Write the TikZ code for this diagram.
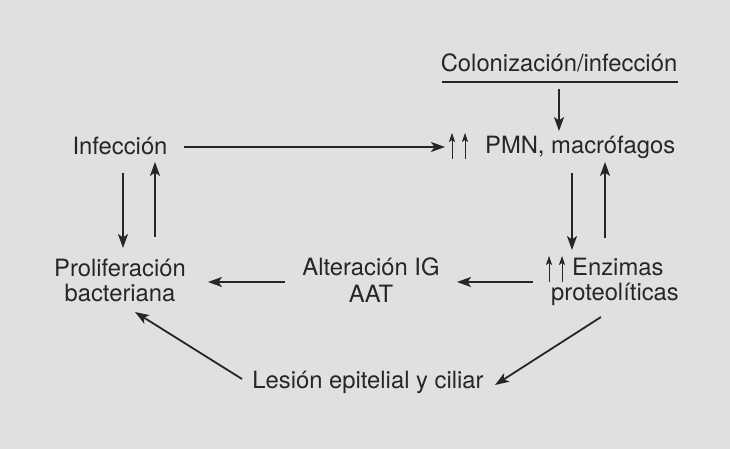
\documentclass[tikz,border=0pt]{standalone}
\usepackage{fontspec}
\setmainfont{TeX Gyre Heros}
\usetikzlibrary{arrows.meta}
\definecolor{bg}{HTML}{DFE0E2}
\definecolor{ink}{HTML}{262626}
\begin{document}
\begin{tikzpicture}[x=1pt,y=-1pt,
  lbl/.style={text=ink,inner sep=0pt,font=\fontsize{23.8}{25}\selectfont,align=center},
  conn/.style={draw=ink,line width=1.8pt,-{Stealth[length=14pt,width=10pt,inset=3.5pt]}},
  small/.style={draw=ink,line width=0.8pt,-{Stealth[length=9pt,width=6pt,inset=2pt]}}]
\fill[bg] (0,0) rectangle (730,449);
\useasboundingbox (0,0) rectangle (730,449);
% texts
\node[lbl,anchor=base] (col) at (559,72) {Colonización/infección};
\node[lbl,anchor=base west] (pmn) at (485,154) {PMN, macrófagos};
\node[lbl,anchor=base] (inf) at (120,155) {Infección};
\node[lbl,anchor=base] (pro1) at (120,276) {Proliferación};
\node[lbl,anchor=base] (pro2) at (120,301) {bacteriana};
\node[lbl,anchor=base] (alt1) at (371,275) {Alteración IG};
\node[lbl,anchor=base] (alt2) at (371,302) {AAT};
\node[lbl,anchor=base west] (enz1) at (572,275) {Enzimas};
\node[lbl,anchor=base] (enz2) at (615,300) {proteolíticas};
\node[lbl,anchor=base] (les) at (368,388) {Lesión epitelial y ciliar};
% coordinates
\coordinate (ulA) at (442,82);
\coordinate (ulB) at (678,82);
\coordinate (colA) at (559,89);
\coordinate (colB) at (559,131);
\coordinate (infE) at (184,147);
\coordinate (pmnW) at (445,147);
\coordinate (lDa) at (123,173);
\coordinate (lDb) at (123,248);
\coordinate (lUa) at (155,237);
\coordinate (lUb) at (155,162);
\coordinate (rDa) at (572,173);
\coordinate (rDb) at (572,250);
\coordinate (rUa) at (605,238);
\coordinate (rUb) at (605,162);
\coordinate (altE) at (285,282);
\coordinate (proE) at (208,282);
\coordinate (enzW) at (533,282);
\coordinate (altW) at (457,282);
\coordinate (enzS) at (601,317);
\coordinate (lesE) at (495,385);
\coordinate (lesW) at (242,379);
\coordinate (proS) at (135,312);
\coordinate (s1a) at (452,159);
\coordinate (s1b) at (452,133);
\coordinate (s2a) at (465,159);
\coordinate (s2b) at (465,133);
\coordinate (s3a) at (549,282);
\coordinate (s3b) at (549,256);
\coordinate (s4a) at (562,282);
\coordinate (s4b) at (562,256);
% lines
\draw[ink,line width=1.4pt] (ulA) -- (ulB);
\draw[conn] (colA) -- (colB);
\draw[conn] (infE) -- (pmnW);
\draw[conn] (lDa) -- (lDb);
\draw[conn] (lUa) -- (lUb);
\draw[conn] (rDa) -- (rDb);
\draw[conn] (rUa) -- (rUb);
\draw[conn] (altE) -- (proE);
\draw[conn] (enzW) -- (altW);
\draw[conn] (enzS) -- (lesE);
\draw[conn] (lesW) -- (proS);
\draw[small] (s1a) -- (s1b);
\draw[small] (s2a) -- (s2b);
\draw[small] (s3a) -- (s3b);
\draw[small] (s4a) -- (s4b);
\end{tikzpicture}
\end{document}
